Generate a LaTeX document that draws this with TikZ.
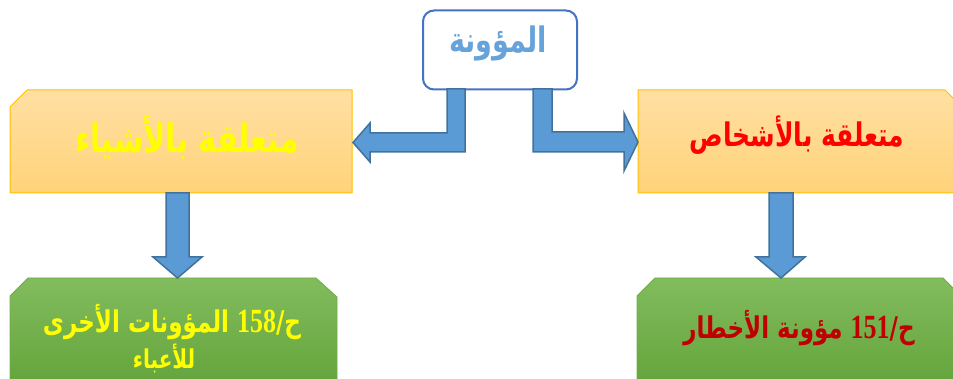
\documentclass[tikz,border=0pt]{standalone}
\usepackage{fontspec}
\usepackage{graphicx}
\usetikzlibrary{calc}
\TeXXeTstate=1
\newfontfamily\arabicfont[Script=Arabic]{DejaVu Sans}
\newfontfamily\numfont{Liberation Serif Bold}
\newcommand\vstretch[1]{\scalebox{1}[1.3]{#1}}
\definecolor{orTop}{HTML}{FFDFA2}
\definecolor{orBot}{HTML}{FFD37A}
\definecolor{orLine}{HTML}{FFC000}
\definecolor{grTop}{HTML}{82BC5E}
\definecolor{grBot}{HTML}{60A136}
\definecolor{grLine}{HTML}{70AD47}
\definecolor{arFill}{HTML}{5B9BD5}
\definecolor{arLine}{HTML}{41719C}
\definecolor{topLine}{HTML}{4472C4}
\definecolor{topText}{HTML}{66A3DA}
\definecolor{txtYellow}{HTML}{FFFF00}
\definecolor{txtRed}{HTML}{FF0000}
\definecolor{txtDark}{HTML}{C00000}
\tikzset{
  orbox/.style={draw=orLine, line width=1pt, top color=orTop, bottom color=orBot, line join=miter},
  grbox/.style={draw=grLine, line width=0.8pt, top color=grTop, bottom color=grBot, line join=miter},
  blockarrow/.style={fill=arFill, draw=arLine, line width=1.5pt, line join=miter},
  txt/.style={inner sep=0pt},
}
\begin{document}
\begin{tikzpicture}[x=1pt,y=-1pt]
\useasboundingbox (0,0) rectangle (953,379);
\clip (0,0) rectangle (953,379);
% boxes
\node[draw=topLine, line width=2pt, rounded corners=11pt, fill=white, minimum width=154pt, minimum height=79pt] (top) at (500,50) {};
\draw[orbox] (10,107) -- (27,90) -- (352,90) -- (352,193) -- (10,193) -- cycle;
\draw[orbox] (638,90) -- (945,90) -- (962,107) -- (962,193) -- (638,193) -- cycle;
\draw[grbox] (10,296) -- (28,278) -- (316,278) -- (337,297) -- (337,400) -- (10,400) -- cycle;
\draw[grbox] (637,296) -- (655,278) -- (943,278) -- (961,296) -- (961,400) -- (637,400) -- cycle;
% bent arrows
\draw[blockarrow] (447,89) -- (465,89) -- (465,152) -- (370,152) -- (370,162) -- (353,142.5) -- (370,123) -- (370,133) -- (447,133) -- cycle;
\draw[blockarrow] (533,89) -- (552,89) -- (552,132) -- (624,132) -- (624,113) -- (638,142) -- (624,171) -- (624,152) -- (533,152) -- cycle;
% down arrows
\draw[blockarrow] (166,193) -- (189,193) -- (189,257) -- (202,257) -- (177.5,278) -- (153,257) -- (166,257) -- cycle;
\draw[blockarrow] (769,193) -- (793,193) -- (793,257) -- (805,257) -- (781,278) -- (756,257) -- (769,257) -- cycle;
% texts
\node[txt, text=topText, font=\arabicfont\bfseries\fontsize{27}{30}\selectfont] (ttop) at (498,43) {\vstretch{\beginR المؤونة\endR}};
\node[txt, text=txtYellow, font=\arabicfont\bfseries\fontsize{30}{34}\selectfont] (tl) at (187,137) {\vstretch{\beginR متعلقة بالأشياء\endR}};
\node[txt, text=txtRed, font=\arabicfont\bfseries\fontsize{25}{30}\selectfont] (tr) at (797,135) {\vstretch{\beginR متعلقة بالأشخاص\endR}};
\node[txt, text=txtYellow, font=\arabicfont\bfseries\fontsize{23}{27}\selectfont] (tg1) at (172,322) {\vstretch{\beginR ح/\beginL{\numfont\fontsize{26}{27}\selectfont 158}\endL{} المؤونات الأخرى\endR}};
\node[txt, text=txtYellow, font=\arabicfont\bfseries\fontsize{20}{24}\selectfont] (tg2) at (164,358) {\vstretch{\beginR للأعباء\endR}};
\node[txt, text=txtDark, font=\arabicfont\bfseries\fontsize{23}{27}\selectfont] (tg3) at (799,328) {\vstretch{\beginR ح/\beginL{\numfont\fontsize{26}{27}\selectfont 151}\endL{} مؤونة الأخطار\endR}};
\end{tikzpicture}
\end{document}
